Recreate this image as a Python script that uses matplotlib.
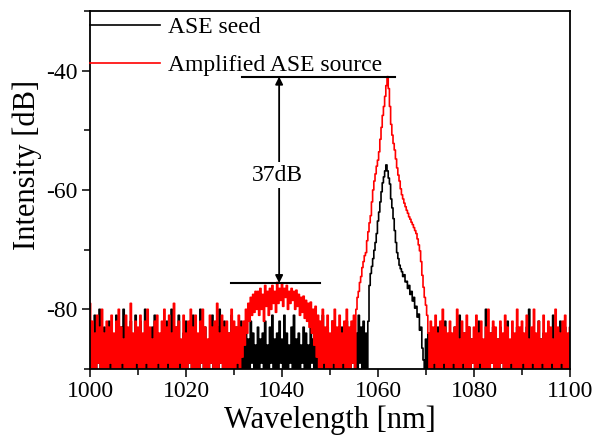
import numpy as np
import matplotlib
matplotlib.use("Agg")
import matplotlib.pyplot as plt
from matplotlib.ticker import MultipleLocator

# spectra sampled every 0.25 nm from 1000 to 1100 nm (401 points)
wavelength = np.linspace(1000, 1100, 401)

# ASE seed [dB]
seed_db = [
    -83, -91, -86, -90, -81, -94, -85, -89, -80, -92, -86, -90, -83, -93, -87, -89, -82, -91, -85, -94,  # 1000
    -86, -90, -81, -92, -85, -89, -83, -94, -80, -91, -86, -90, -84, -93, -82, -89, -87, -92, -81, -90,  # 1005
    -85, -93, -82, -89, -86, -91, -80, -90, -84, -94, -87, -89, -83, -92, -81, -90, -85, -93, -86, -89,  # 1010
    -84, -91, -87, -90, -82, -94, -85, -89, -80, -92, -86, -90, -83, -91, -81, -93, -86, -89, -84, -90,  # 1015
    -82, -92, -85, -89, -87, -93, -81, -90, -84, -91, -86, -94, -80, -89, -85, -92, -83, -90, -87, -91,  # 1020
    -85, -89, -81, -93, -86, -90, -83, -92, -80, -89, -85, -94, -82, -90, -86, -91, -84, -89, -81, -93,  # 1025
    -86, -90, -83, -92, -85, -89, -82, -94, -84, -90, -83, -91, -85, -93, -82, -89, -84, -92, -86, -90,  # 1030
    -83, -91, -85, -89, -84, -94, -82, -90, -86, -92, -83, -89, -81, -93, -85, -90, -84, -91, -82, -89,  # 1035
    -85, -93, -81, -90, -84, -92, -86, -89, -83, -94, -81, -90, -85, -91, -84, -93, -86, -89, -83, -92,  # 1040
    -84, -90, -86, -91, -82, -89, -85, -94, -83, -90, -86, -92, -84, -89, -81, -93, -85, -90, -83, -91,  # 1045
    -86, -89, -82, -92, -85, -90, -84, -94, -87, -89, -83, -91, -85, -93, -82, -90, -86, -92, -84, -89,  # 1050
    -82, -90, -84, -91, -81, -89, -83, -92, -82, -90, -84, -91, -82, -76, -74, -72.8, -71.5, -70.1, -68.8, -67.3,  # 1055
    -65.2, -63.7, -62, -60.3, -58.8, -57.8, -56.8, -55.8, -56.8, -58, -59, -61.5, -63, -64.8, -66.8, -68.8, -70.5, -71.5, -72.6, -73.2,  # 1060
    -73.7, -74.5, -74.2, -75.4, -75.3, -76.5, -76, -77.5, -77, -78.6, -78, -79.8, -79.5, -81.3, -80.8, -83.5, -83, -86.5, -88.5, -91,  # 1065
    -85, -92, -84, -90, -86, -93, -85, -91, -86, -89, -83, -92, -87, -90, -84, -94, -82, -89, -86, -91,  # 1070
    -84, -90, -86, -93, -83, -89, -85, -91, -81, -90, -86, -94, -84, -89, -87, -92, -83, -90, -85, -89,  # 1075
    -86, -91, -84, -90, -82, -93, -85, -89, -87, -92, -80, -90, -86, -94, -84, -89, -83, -91, -86, -90,  # 1080
    -85, -92, -83, -89, -86, -90, -84, -93, -82, -89, -87, -91, -84, -90, -85, -94, -83, -89, -86, -92,  # 1085
    -84, -90, -86, -91, -83, -89, -80, -93, -85, -90, -84, -92, -86, -89, -82, -91, -85, -94, -84, -90,  # 1090
    -86, -89, -83, -92, -85, -90, -81, -93, -86, -89, -84, -91, -82, -90, -85, -92, -83, -89, -86, -90,  # 1095
    -85,
]

# Amplified ASE source [dB]
amplified_db = [
    -79, -92, -82, -90, -84, -93, -81, -89, -83, -95, -80, -91, -84, -90, -82, -94, -83, -89, -81, -92,  # 1000
    -84, -90, -82, -93, -80, -91, -83, -89, -85, -92, -81, -94, -83, -90, -79, -91, -84, -93, -82, -89,  # 1005
    -83, -92, -81, -90, -84, -95, -82, -89, -80, -91, -83, -93, -85, -90, -82, -92, -81, -89, -84, -94,  # 1010
    -82, -90, -80, -92, -83, -89, -81, -93, -84, -91, -79, -90, -83, -94, -82, -89, -85, -92, -81, -90,  # 1015
    -84, -93, -82, -89, -80, -91, -83, -90, -81, -94, -84, -92, -82, -89, -80, -93, -83, -90, -85, -91,  # 1020
    -81, -89, -83, -94, -82, -90, -79, -92, -84, -89, -81, -93, -83, -90, -82, -91, -84, -95, -80, -90,  # 1025
    -82, -91, -83, -89, -81, -90, -83, -88, -82, -86, -80, -84, -79, -82, -78, -81, -77.5, -80.5, -77, -80,  # 1030
    -77, -81, -76.5, -80, -77.5, -82, -76, -79.5, -77, -81, -76.5, -80, -76, -79, -77, -80.5, -75.5, -79, -76.5, -78.5,  # 1035
    -75.8, -79.5, -76.5, -78, -76, -80, -77, -79, -76.5, -78.5, -77, -80, -76.8, -79.5, -77.5, -81, -78, -80.5, -77.8, -81.5,  # 1040
    -78.5, -82, -79, -83, -78.8, -84, -80, -86, -79.5, -88, -81, -90, -82, -92, -80, -89, -83, -93, -81, -90,  # 1045
    -84, -91, -82, -89, -80, -94, -83, -90, -81, -92, -84, -89, -82, -93, -80, -90, -83, -91, -82, -89,  # 1050
    -81, -90, -80, -78, -77, -75.5, -74.5, -73, -72, -71, -70.5, -68.5, -67, -65.5, -64.3, -62, -60, -58.5, -57.3, -56,  # 1055
    -55, -53.6, -51.5, -49.5, -47.5, -46, -44.3, -42.5, -41, -43, -46, -49, -50.8, -52.2, -53.3, -54.8, -56.3, -57.5, -58.5, -59.8,  # 1060
    -60.8, -61.5, -62.2, -62.8, -63.4, -63.9, -64.5, -64.9, -65.4, -65.8, -66.3, -66.8, -67.3, -68.2, -69.2, -70.2, -72, -74.3, -76.3, -78,  # 1065
    -79.3, -81, -84, -90, -82, -93, -83, -89, -81, -91, -84, -90, -82, -94, -80, -89, -83, -92, -84, -90,  # 1070
    -82, -91, -84, -89, -83, -93, -80, -90, -85, -92, -82, -89, -84, -94, -81, -90, -83, -91, -85, -89,  # 1075
    -83, -92, -81, -90, -84, -89, -82, -93, -85, -91, -83, -90, -80, -92, -84, -89, -82, -94, -83, -90,  # 1080
    -85, -91, -82, -89, -84, -93, -81, -90, -83, -92, -85, -89, -82, -91, -84, -94, -80, -90, -83, -92,  # 1085
    -82, -89, -84, -93, -81, -90, -85, -91, -83, -89, -80, -92, -84, -90, -82, -94, -85, -89, -81, -91,  # 1090
    -84, -90, -82, -93, -83, -89, -85, -91, -80, -92, -83, -90, -84, -89, -82, -94, -81, -90, -84, -92,  # 1095
    -83,
]

series_labels = ["ASE seed", "Amplified ASE source"]
series_colors = ["black", "red"]

# 37 dB marker: peak level of amplified source and top of the 1040 nm hump
peak_level = -41
hump_level = -75.6
marker_wl = 1039.4

plt.rcParams["font.family"] = ["Liberation Serif", "DejaVu Serif"]
plt.rcParams["axes.unicode_minus"] = False
plt.rcParams["path.simplify"] = False

fig = plt.figure(figsize=(5.95, 4.45), dpi=100)
ax = fig.add_axes([0.1513, 0.1708, 0.8067, 0.8045])

ax.plot(wavelength, seed_db, color=series_colors[0], lw=1.2, drawstyle="steps-mid",
        snap=False, label=series_labels[0])
ax.plot(wavelength, amplified_db, color=series_colors[1], lw=1.2, drawstyle="steps-mid",
        snap=False, label=series_labels[1])

ax.set_xlim(1000, 1100)
ax.set_ylim(-90, -30)
ax.xaxis.set_major_locator(MultipleLocator(20))
ax.xaxis.set_minor_locator(MultipleLocator(10))
ax.yaxis.set_minor_locator(MultipleLocator(10))
ax.set_yticks([-80, -60, -40])
ax.tick_params(which="both", direction="out", top=False, right=False, labelsize=17, width=1.1)
ax.tick_params(which="major", length=6, pad=3)
ax.tick_params(which="minor", length=4)
for s in ax.spines.values():
    s.set_linewidth(1.3)

ax.set_xlabel("Wavelength [nm]", fontsize=22, labelpad=2)
ax.set_ylabel("Intensity [dB]", fontsize=22)
ax.yaxis.set_label_coords(-0.10, 0.57)

# annotation lines and arrow
ax.plot([1031.7, 1063.5], [peak_level, peak_level], color="black", lw=1.5)
ax.plot([1029.4, 1047.9], [hump_level, hump_level], color="black", lw=1.5)
ax.annotate("", xy=(marker_wl, hump_level), xytext=(marker_wl, peak_level),
            arrowprops=dict(arrowstyle="<|-|>", color="black", lw=1.3,
                            mutation_scale=11, shrinkA=0, shrinkB=0))
ax.text(marker_wl - 0.3, -57.5, "37dB", fontsize=17, ha="center", va="center",
        bbox=dict(facecolor="white", edgecolor="none", pad=2))

ax.legend(loc="upper left", bbox_to_anchor=(0, 0.985), borderaxespad=0, borderpad=0,
          handlelength=2.95, handletextpad=0.35, labelspacing=0.7, frameon=False, fontsize=17)

fig.savefig("out.png", dpi=100)
